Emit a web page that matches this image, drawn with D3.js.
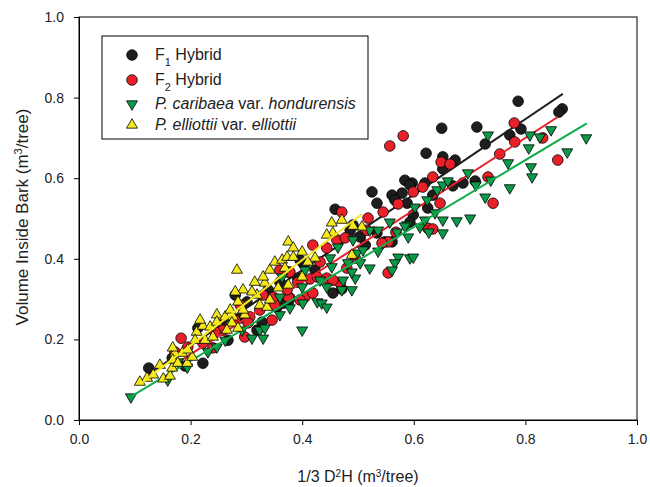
<!DOCTYPE html>
<html>
  <head>
    <meta charset="utf-8" />
    <script src="https://d3js.org/d3.v7.min.js"></script>
    <style>
        body {margin: 0; background: #fff;}
        text {font-family: "Liberation Sans", Arial, sans-serif;}
    </style>
  </head>
  <body>
    <svg id="viz"></svg>
    <script>
        // [x, y] pairs (1/3 D^2H, volume inside bark)
        var f1Points = [
            [0.125,0.129],[0.213,0.228],[0.222,0.141],[0.190,0.134],[0.267,0.198],[0.301,0.293],
            [0.355,0.280],[0.319,0.223],[0.375,0.293],[0.366,0.290],[0.360,0.342],[0.401,0.390],
            [0.392,0.352],[0.378,0.303],[0.423,0.372],[0.396,0.397],[0.455,0.315],[0.471,0.325],
            [0.459,0.523],[0.491,0.484],[0.504,0.454],[0.534,0.464],[0.548,0.442],[0.513,0.434],
            [0.525,0.566],[0.534,0.538],[0.561,0.558],[0.579,0.563],[0.597,0.588],[0.486,0.471],
            [0.584,0.595],[0.593,0.583],[0.566,0.546],[0.620,0.588],[0.634,0.558],[0.670,0.581],
            [0.688,0.588],[0.710,0.593],[0.588,0.538],[0.599,0.509],[0.593,0.491],[0.625,0.526],
            [0.561,0.442],[0.622,0.662],[0.652,0.653],[0.652,0.623],[0.650,0.724],[0.713,0.727],
            [0.728,0.685],[0.772,0.707],[0.787,0.791],[0.866,0.772],[0.860,0.764],[0.792,0.722],
            [0.674,0.645],[0.289,0.253],[0.328,0.243],[0.256,0.236],[0.167,0.154],[0.339,0.323],
            [0.280,0.310]
        ];
        var f2Points = [
            [0.183,0.203],[0.195,0.181],[0.172,0.169],[0.240,0.179],[0.222,0.191],[0.258,0.223],
            [0.244,0.218],[0.297,0.206],[0.280,0.248],[0.306,0.256],[0.303,0.241],[0.324,0.273],
            [0.330,0.310],[0.348,0.305],[0.351,0.285],[0.346,0.248],[0.360,0.372],[0.375,0.367],
            [0.375,0.305],[0.378,0.367],[0.392,0.342],[0.373,0.323],[0.405,0.305],[0.419,0.315],
            [0.414,0.350],[0.427,0.355],[0.444,0.352],[0.468,0.340],[0.480,0.377],[0.419,0.434],
            [0.444,0.427],[0.462,0.447],[0.477,0.452],[0.471,0.516],[0.516,0.471],[0.518,0.501],
            [0.545,0.516],[0.572,0.536],[0.554,0.442],[0.543,0.439],[0.554,0.365],[0.599,0.566],
            [0.616,0.578],[0.647,0.538],[0.568,0.466],[0.625,0.476],[0.634,0.474],[0.634,0.603],
            [0.649,0.640],[0.665,0.635],[0.557,0.680],[0.581,0.705],[0.733,0.603],[0.742,0.538],
            [0.754,0.660],[0.781,0.690],[0.780,0.737],[0.831,0.700],[0.858,0.645],[0.455,0.347],
            [0.432,0.392],[0.495,0.402],[0.396,0.298],[0.289,0.285]
        ];
        var caribaeaPoints = [
            [0.093,0.057],[0.159,0.099],[0.177,0.144],[0.231,0.169],[0.194,0.131],[0.247,0.181],
            [0.324,0.223],[0.310,0.203],[0.330,0.203],[0.360,0.305],[0.364,0.355],[0.333,0.228],
            [0.292,0.223],[0.360,0.261],[0.378,0.278],[0.401,0.290],[0.427,0.293],[0.435,0.290],
            [0.444,0.280],[0.400,0.223],[0.400,0.330],[0.405,0.372],[0.450,0.402],[0.453,0.380],
            [0.432,0.347],[0.444,0.330],[0.471,0.323],[0.489,0.323],[0.473,0.347],[0.495,0.352],
            [0.489,0.367],[0.482,0.390],[0.504,0.390],[0.521,0.377],[0.498,0.414],[0.509,0.422],
            [0.536,0.419],[0.464,0.429],[0.491,0.447],[0.521,0.471],[0.536,0.471],[0.557,0.491],
            [0.588,0.484],[0.572,0.404],[0.593,0.402],[0.566,0.390],[0.561,0.372],[0.599,0.404],
            [0.584,0.481],[0.611,0.479],[0.590,0.454],[0.570,0.466],[0.620,0.496],[0.652,0.496],
            [0.677,0.494],[0.701,0.501],[0.652,0.464],[0.627,0.466],[0.638,0.514],[0.602,0.528],
            [0.624,0.546],[0.642,0.571],[0.652,0.583],[0.661,0.593],[0.697,0.613],[0.711,0.583],
            [0.738,0.595],[0.728,0.553],[0.772,0.576],[0.769,0.638],[0.733,0.707],[0.808,0.707],
            [0.826,0.702],[0.846,0.720],[0.909,0.700],[0.875,0.665],[0.806,0.675],[0.810,0.628],
            [0.812,0.603],[0.262,0.198],[0.271,0.248]
        ];
        var elliottiiPoints = [
            [0.122,0.104],[0.133,0.112],[0.145,0.136],[0.151,0.102],[0.163,0.109],[0.167,0.129],
            [0.172,0.166],[0.185,0.166],[0.168,0.149],[0.177,0.141],[0.194,0.141],[0.203,0.156],
            [0.211,0.218],[0.222,0.233],[0.235,0.231],[0.208,0.198],[0.226,0.198],[0.240,0.206],
            [0.247,0.261],[0.168,0.179],[0.262,0.256],[0.276,0.256],[0.297,0.261],[0.247,0.243],
            [0.274,0.241],[0.285,0.228],[0.265,0.223],[0.271,0.273],[0.294,0.273],[0.324,0.285],
            [0.337,0.280],[0.285,0.293],[0.342,0.298],[0.319,0.310],[0.294,0.323],[0.280,0.318],
            [0.310,0.318],[0.315,0.342],[0.333,0.340],[0.357,0.328],[0.330,0.355],[0.342,0.372],
            [0.351,0.392],[0.364,0.397],[0.373,0.404],[0.375,0.442],[0.283,0.372],[0.384,0.427],
            [0.400,0.417],[0.453,0.489],[0.471,0.496],[0.455,0.464],[0.444,0.459],[0.423,0.402],
            [0.410,0.392],[0.384,0.404],[0.369,0.377],[0.400,0.355],[0.375,0.335],[0.489,0.409],
            [0.507,0.479],[0.491,0.481],[0.109,0.094],[0.195,0.174],[0.217,0.248]
        ];

        // fitted lines: slope, intercept and x range
        var f1Fit = [0.937, -0.003, 0.125, 0.867];
        var f2Fit = [0.895, -0.016, 0.170, 0.858];
        var caribaeaFit = [0.830, -0.019, 0.093, 0.910];
        var elliottiiFit = [1.060, -0.027, 0.110, 0.507];

        var tickValues = [0, 0.2, 0.4, 0.6, 0.8, 1.0];

        var width = 650, height = 487;
        var margin = {top: 17, right: 13, bottom: 67, left: 79};

        var svg = d3.select("#viz")
            .attr("width", width)
            .attr("height", height);

        var x = d3.scaleLinear().domain([0, 1]).range([margin.left, width - margin.right]);
        var y = d3.scaleLinear().domain([0, 1]).range([height - margin.bottom, margin.top]);

        var series = [
            {name: "F1", pts: f1Points, fit: f1Fit, shape: "circle", fill: "#1e1e1e", line: "#1e1e1e"},
            {name: "F2", pts: f2Points, fit: f2Fit, shape: "circle", fill: "#e8202a", line: "#e8202a"},
            {name: "car", pts: caribaeaPoints, fit: caribaeaFit, shape: "down", fill: "#0b9a48", line: "#12ab4b"},
            {name: "ell", pts: elliottiiPoints, fit: elliottiiFit, shape: "up", fill: "#f5e91d", line: "#f5e91d"}
        ];

        var tri = d3.symbol().type(d3.symbolTriangle).size(52);

        function drawMarker(g, s, cx, cy) {
            if (s.shape === "circle") {
                g.append("circle").attr("cx", cx).attr("cy", cy).attr("r", 5.3)
                    .attr("fill", s.fill).attr("stroke", "#000").attr("stroke-width", 0.8);
            } else {
                g.append("path").attr("d", tri)
                    .attr("transform", "translate(" + cx + "," + cy + ")" + (s.shape === "down" ? " rotate(180)" : ""))
                    .attr("fill", s.fill).attr("stroke", "#000").attr("stroke-width", 0.8);
            }
        }

        var plot = svg.append("g");

        series.forEach(function(s) {
            var g = plot.append("g");
            s.pts.forEach(function(p) { drawMarker(g, s, x(p[0]), y(p[1])); });
            var f = s.fit;
            g.append("line")
                .attr("x1", x(f[2])).attr("y1", y(f[0] * f[2] + f[1]))
                .attr("x2", x(f[3])).attr("y2", y(f[0] * f[3] + f[1]))
                .attr("stroke", s.line).attr("stroke-width", 2);
        });

        // frame
        svg.append("rect")
            .attr("x", margin.left).attr("y", margin.top)
            .attr("width", width - margin.left - margin.right)
            .attr("height", height - margin.top - margin.bottom)
            .attr("fill", "none").attr("stroke", "#000").attr("stroke-width", 1);

        var xAxis = svg.append("g")
            .attr("transform", "translate(0," + (height - margin.bottom) + ")")
            .call(d3.axisBottom(x).tickValues(tickValues).tickFormat(d3.format(".1f")).tickSize(5).tickPadding(9));
        var yAxis = svg.append("g")
            .attr("transform", "translate(" + margin.left + ",0)")
            .call(d3.axisLeft(y).tickValues(tickValues).tickFormat(d3.format(".1f")).tickSize(5).tickPadding(10));

        [xAxis, yAxis].forEach(function(a) {
            a.select(".domain").attr("stroke", "#000");
            a.selectAll("line").attr("stroke", "#000");
            a.selectAll("text").attr("font-size", 14).attr("fill", "#222")
                .attr("font-family", "'Liberation Sans', Arial, sans-serif");
        });

        // axis titles
        var xt = svg.append("text")
            .attr("x", (margin.left + width - margin.right) / 2)
            .attr("y", 482)
            .attr("text-anchor", "middle").attr("font-size", 16).attr("fill", "#222");
        xt.append("tspan").text("1/3 D");
        xt.append("tspan").attr("font-size", 10).attr("baseline-shift", "super").text("2");
        xt.append("tspan").text("H (m");
        xt.append("tspan").attr("font-size", 10).attr("baseline-shift", "super").text("3");
        xt.append("tspan").text("/tree)");

        var yt = svg.append("text")
            .attr("transform", "translate(28,217) rotate(-90)")
            .attr("text-anchor", "middle").attr("font-size", 17).attr("fill", "#222");
        yt.append("tspan").text("Volume Inside Bark (m");
        yt.append("tspan").attr("font-size", 11).attr("baseline-shift", "super").text("3");
        yt.append("tspan").text("/tree)");

        // legend
        var legend = svg.append("g");
        legend.append("rect")
            .attr("x", 102).attr("y", 36).attr("width", 266).attr("height", 103)
            .attr("fill", "#fff").attr("stroke", "#000").attr("stroke-width", 1);

        var legendRows = [55, 80, 104, 125];
        legendRows.forEach(function(ly, i) {
            drawMarker(legend, series[i], 132, ly);
        });

        function legendText(ly) {
            return legend.append("text").attr("x", 155).attr("y", ly + 5)
                .attr("font-size", 16).attr("fill", "#222");
        }
        var t1 = legendText(legendRows[0]);
        t1.append("tspan").text("F");
        t1.append("tspan").attr("font-size", 11).attr("baseline-shift", "sub").text("1");
        t1.append("tspan").text(" Hybrid");
        var t2 = legendText(legendRows[1]);
        t2.append("tspan").text("F");
        t2.append("tspan").attr("font-size", 11).attr("baseline-shift", "sub").text("2");
        t2.append("tspan").text(" Hybrid");
        var t3 = legendText(legendRows[2]);
        t3.append("tspan").attr("font-style", "italic").text("P. caribaea");
        t3.append("tspan").text(" var. ");
        t3.append("tspan").attr("font-style", "italic").text("hondurensis");
        var t4 = legendText(legendRows[3]);
        t4.append("tspan").attr("font-style", "italic").text("P. elliottii");
        t4.append("tspan").text(" var. ");
        t4.append("tspan").attr("font-style", "italic").text("elliottii");
    </script>
  </body>
</html>
